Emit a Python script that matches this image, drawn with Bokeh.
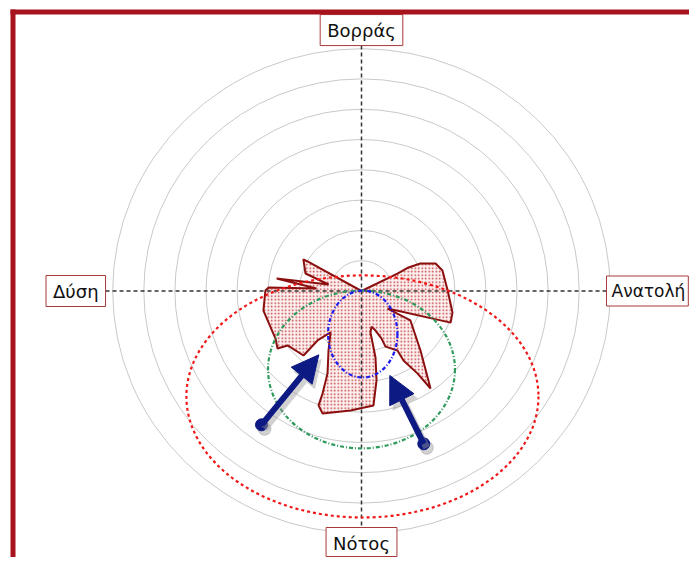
import numpy as np
from bokeh.plotting import figure
from bokeh.models import BoxAnnotation, Label, Arrow, NormalHead, ColumnDataSource, Range1d
from bokeh.embed import file_html
from bokeh.resources import INLINE

# ---------------- data ----------------
ring_radii = [1, 2, 3, 4, 5, 6, 7, 8]

# polar outline of the orientation diagram (bearing in degrees from north, radius in ring units)
rose_bearing = [0.0, 63.5, 62.8, 64.4, 69.1, 75.4, 89.7, 103.6, 110.0, 124.7, 121.7, 136.0,
                145.4, 146.5, 149.5, 149.5, 157.2, 157.7, 161.0, 164.6, 168.1, 168.4, 170.7,
                174.2, 185.1, 197.2, 200.1, 200.3, 201.9, 208.4, 216.0, 220.9, 221.2, 232.9,
                234.9, 240.4, 258.4, 270.3, 272.2, 273.3, 278.6, 281.5, 287.8, 299.1, 299.3]
rose_radius = [0.0, 1.29, 1.70, 2.10, 2.55, 2.69, 2.77, 3.01, 3.05, 1.02, 1.85, 2.73,
               3.91, 3.27, 2.66, 2.28, 1.99, 1.69, 1.38, 1.22, 1.40, 2.24, 2.99,
               3.80, 3.96, 4.23, 4.02, 3.61, 2.93, 2.23, 1.69, 2.16, 2.83, 2.98,
               3.30, 3.18, 3.22, 3.09, 2.99, 1.45, 2.76, 1.08, 1.89, 2.14, 1.99]

ell_cx = [0.03, 0.0, 0.04]
ell_cy = [-3.48, -2.59, -1.42]
ell_w = [11.32, 6.01, 2.23]
ell_h = [7.99, 5.21, 2.87]
ell_color = ["#f01818", "#2f9a5c", "#1c1cf2"]
ell_dash = ["3 3", "4 2 1 2", "4 2 1 2"]

arrow_x0 = [-3.215, 2.003]
arrow_y0 = [-4.416, -5.043]
arrow_x1 = [-1.373, 0.910]
arrow_y1 = [-2.106, -2.789]

dir_labels = ["Βορράς", "Ανατολή", "Νότος", "Δύση"]
axis_reach_n, axis_reach_e, axis_reach_s, axis_reach_w = 8.1, 8.23, 8.43, 8.23

# ---------------- layout ----------------
W, H = 689, 557
PXX, PXY = 31.1, 30.3          # pixels per ring unit
CX, CY = 361, 290.5            # polar centre inside the canvas (pixels)


def sx(px):
    return (px - CX) / PXX


def sy(py):
    return (CY - py) / PXY


p = figure(width=W, height=H, output_backend="svg", toolbar_location=None,
           x_range=Range1d(sx(0), sx(W)), y_range=Range1d(sy(H), sy(0)),
           x_axis_type=None, y_axis_type=None, min_border=0,
           background_fill_color="white", border_fill_color="white")
p.grid.visible = False
p.outline_line_color = None

# frame border (left and top)
border = "#a8121d"
p.add_layout(BoxAnnotation(left=sx(10), right=sx(15), top=sy(9), fill_color=border,
                           fill_alpha=1, line_color=None, level="overlay"))
p.add_layout(BoxAnnotation(left=sx(10), top=sy(9), bottom=sy(14), fill_color=border,
                           fill_alpha=1, line_color=None, level="overlay"))

# rings
n = len(ring_radii)
p.ellipse(x=[0] * n, y=[0] * n, width=[2 * r for r in ring_radii],
          height=[2 * r for r in ring_radii], fill_color=None,
          line_color="#c9c9c9", line_width=1)

# rose polygon
b = np.radians(np.array(rose_bearing))
r = np.array(rose_radius)
p.patch(r * np.sin(b), r * np.cos(b), fill_color="#fcf0f0",
        hatch_pattern="dot", hatch_color="#c43c3c", hatch_scale=3.5, hatch_weight=1.4,
        line_color="#8a1010", line_width=2)

# crosshair
p.segment(x0=[0, -axis_reach_w], y0=[-axis_reach_s, 0],
          x1=[0, axis_reach_e], y1=[axis_reach_n, 0],
          line_color="#333333", line_width=1.5, line_dash="4 3")

# mean-direction ellipses
for i in range(3):
    p.ellipse(x=ell_cx[i], y=ell_cy[i], width=ell_w[i], height=ell_h[i],
              fill_color=None, line_color=ell_color[i], line_width=2.2,
              line_dash=ell_dash[i])

# arrows with a soft shadow
dx_s, dy_s = 3 / PXX, -4 / PXY
shadow = ColumnDataSource(dict(x0=[x + dx_s for x in arrow_x0], y0=[y + dy_s for y in arrow_y0],
                               x1=[x + dx_s for x in arrow_x1], y1=[y + dy_s for y in arrow_y1]))
p.add_layout(Arrow(source=shadow, x_start="x0", y_start="y0", x_end="x1", y_end="y1",
                   line_color="#9a9a9a", line_alpha=0.45, line_width=7,
                   end=NormalHead(size=28, fill_color="#9a9a9a", fill_alpha=0.45,
                                  line_color=None)))
p.scatter([x + dx_s for x in arrow_x0], [y + dy_s for y in arrow_y0], size=13,
          color="#9a9a9a", alpha=0.45)
arr = ColumnDataSource(dict(x0=arrow_x0, y0=arrow_y0, x1=arrow_x1, y1=arrow_y1))
p.add_layout(Arrow(source=arr, x_start="x0", y_start="y0", x_end="x1", y_end="y1",
                   line_color="#0d1a84", line_width=6,
                   end=NormalHead(size=27, fill_color="#0d1a84", line_color="#0d1a84",
                                  line_width=1)))
p.scatter(arrow_x0, arrow_y0, size=12, color="#0d1a84")

# direction labels
common = dict(text_font="DejaVu Sans", text_color="#111111",
              background_fill_color="white", border_line_color="#a83a3a",
              border_line_width=1)
pad = dict(left=7, right=7, top=5, bottom=5)
p.add_layout(Label(x=0, y=axis_reach_n, text=dir_labels[0], text_align="center",
                   text_baseline="bottom", text_font_size="18px", padding=pad, **common))
p.add_layout(Label(x=sx(606), y=0, text=dir_labels[1], text_align="left",
                   text_baseline="middle", text_font_size="17px",
                   padding=dict(left=5, right=3, top=5, bottom=5), **common))
p.add_layout(Label(x=0, y=sy(H - 1), text=dir_labels[2], text_align="center",
                   text_baseline="bottom", text_font_size="18px",
                   padding=dict(left=7, right=7, top=5, bottom=3), **common))
p.add_layout(Label(x=-axis_reach_w, y=0, text=dir_labels[3], text_align="right",
                   text_baseline="middle", text_font_size="18px", padding=pad, **common))

open("out.html", "w").write(file_html(p, INLINE))
